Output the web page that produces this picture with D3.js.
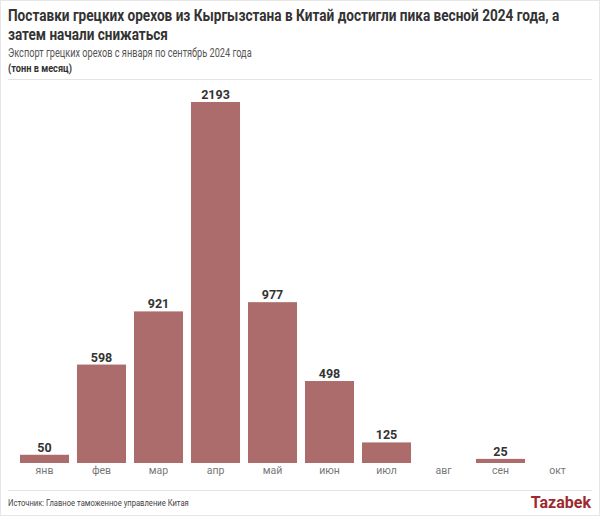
<!DOCTYPE html>
<html>
<head>
<meta charset="utf-8">
<script src="https://cdn.jsdelivr.net/npm/d3@7"></script>
<style>
  body { margin: 0; background: #fff; }
  svg { display: block; font-family: "Roboto", "Noto Sans", sans-serif; }
</style>
</head>
<body>
<svg id="chart" width="600" height="516"></svg>
<script>
var months = ["янв", "фев", "мар", "апр", "май", "июн", "июл", "авг", "сен", "окт"];
var tons = [50, 598, 921, 2193, 977, 498, 125, null, 25, null];

var width = 600, height = 516;
var baseY = 463;

var svg = d3.select("#chart");

svg.append("rect")
  .attr("x", 0.5).attr("y", 0.5)
  .attr("width", width - 1).attr("height", height - 1)
  .attr("fill", "#fff").attr("stroke", "#e6e6e6");

// the original uses a condensed face; squeeze Roboto horizontally to the same width
function squeezed(x0, y0, w, size, weight, color, str) {
  var g = svg.append("g");
  var t = g.append("text")
    .attr("x", 0).attr("y", 0)
    .attr("font-size", size).attr("font-weight", weight).attr("fill", color)
    .text(str);
  var natural = t.node().getComputedTextLength();
  var sx = Math.min(1, w / natural);
  g.attr("transform", "translate(" + x0 + "," + y0 + ") scale(" + sx + ",1)");
  return g;
}

squeezed(8, 21, 552, 16.5, "bold", "#333",
  "Поставки грецких орехов из Кыргызстана в Китай достигли пика весной 2024 года, а");
squeezed(8, 40, 160, 16.5, "bold", "#333", "затем начали снижаться");
squeezed(8, 57, 244, 12, "normal", "#555", "Экспорт грецких орехов с января по сентябрь 2024 года");
squeezed(8, 71.5, 64, 11.5, "bold", "#333", "(тонн в месяц)");

svg.append("line")
  .attr("x1", 8).attr("x2", 592).attr("y1", 79.5).attr("y2", 79.5)
  .attr("stroke", "#e3e3e3");

var x = d3.scaleBand()
  .domain(months)
  .range([16, 586])
  .paddingInner(0.14)
  .paddingOuter(0.07);

var y = d3.scaleLinear()
  .domain([0, 2193])
  .range([baseY, 102]);

var rows = months.map(function(m, i) { return {m: m, v: tons[i]}; });
var withVal = rows.filter(function(d) { return d.v != null; });

svg.append("g").selectAll("rect")
  .data(withVal)
  .enter()
  .append("rect")
  .attr("x", function(d) { return x(d.m); })
  .attr("width", x.bandwidth())
  .attr("y", function(d) { return y(d.v); })
  .attr("height", function(d) { return baseY - y(d.v); })
  .attr("fill", "#ad6c6c");

svg.append("g").selectAll("text")
  .data(withVal)
  .enter()
  .append("text")
  .attr("x", function(d) { return x(d.m) + x.bandwidth() / 2; })
  .attr("y", function(d) { return y(d.v) - 3; })
  .attr("text-anchor", "middle")
  .attr("font-size", 12.5).attr("font-weight", "bold").attr("fill", "#333")
  .text(function(d) { return d.v; });

var xAxis = d3.axisBottom(x).tickSize(0).tickPadding(4);
var gx = svg.append("g")
  .attr("transform", "translate(0," + baseY + ")")
  .call(xAxis);
gx.select(".domain").remove();
gx.selectAll("text")
  .attr("font-size", 10.5).attr("fill", "#777")
  .attr("font-family", "Roboto, sans-serif");

// footer
svg.append("line")
  .attr("x1", 8).attr("x2", 592).attr("y1", 490.5).attr("y2", 490.5)
  .attr("stroke", "#e3e3e3");
squeezed(8, 506, 181, 9.5, "normal", "#444", "Источник: Главное таможенное управление Китая");
svg.append("text")
  .attr("x", 591).attr("y", 508)
  .attr("text-anchor", "end")
  .attr("font-size", 16).attr("font-weight", "bold").attr("fill", "#9e2a2e")
  .text("Tazabek");
</script>
</body>
</html>
